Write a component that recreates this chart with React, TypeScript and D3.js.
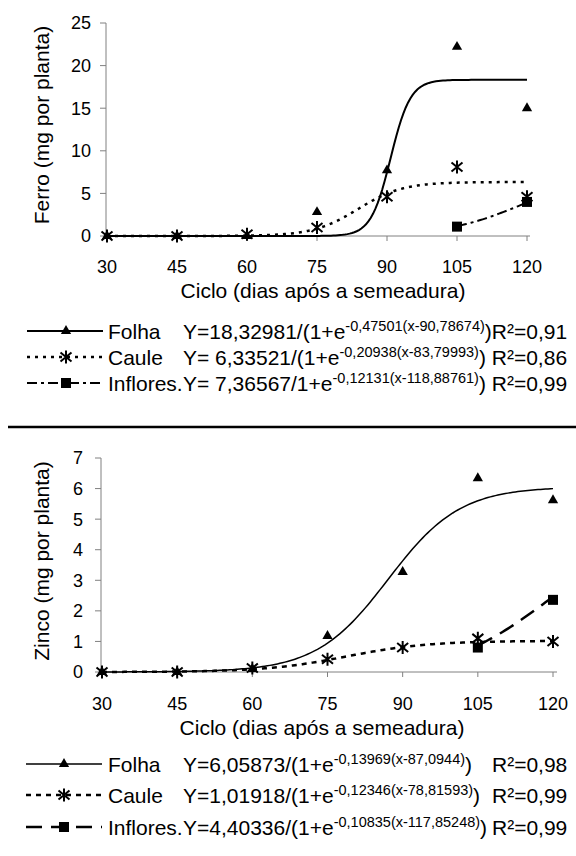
import React from "react";
import * as d3 from "d3";

// Sampling days (dias após a semeadura)
const days = [30, 45, 60, 75, 90, 105, 120];

// Ferro (mg por planta): observed values per organ
const ferroFolha: (number | null)[] = [0, 0, 0, 2.8, 7.7, 22.2, 15.0];
const ferroCaule: (number | null)[] = [0, 0, 0.2, 1.0, 4.6, 8.1, 4.6];
const ferroInflores: (number | null)[] = [null, null, null, null, null, 1.1, 4.0];

// Logistic fits [a, b, c] for Y = a / (1 + e^(-b(x - c)))
const ferroFolhaFit = [18.32981, 0.47501, 90.78674];
const ferroCauleFit = [6.33521, 0.20938, 83.79993];
const ferroInfloresFit = [7.36567, 0.12131, 118.88761];
const ferroR2 = ["0,91", "0,86", "0,99"];
const ferroTicks = [0, 5, 10, 15, 20, 25];

// Zinco (mg por planta)
const zincoFolha: (number | null)[] = [0, 0, 0.1, 1.18, 3.27, 6.34, 5.62];
const zincoCaule: (number | null)[] = [0, 0, 0.13, 0.42, 0.8, 1.1, 1.0];
const zincoInflores: (number | null)[] = [null, null, null, null, null, 0.8, 2.36];

const zincoFolhaFit = [6.05873, 0.13969, 87.0944];
const zincoCauleFit = [1.01918, 0.12346, 78.81593];
const zincoInfloresFit = [4.40336, 0.10835, 117.85248];
const zincoR2 = ["0,98", "0,99", "0,99"];
const zincoTicks = [0, 1, 2, 3, 4, 5, 6, 7];

const seriesNames = ["Folha", "Caule", "Inflores."];
const fitStart = [30, 30, 105];
const markerKinds = ["tri", "star", "sq"];

const FONT = "'Liberation Sans', Arial, Helvetica, sans-serif";
const AXIS = "#808080";
const LEGEND_SIZE = 21;
const SUP_SIZE = 14.5;

const fmt = (v: number) => String(v).replace(".", ",");
const logistic = (f: number[], x: number) => f[0] / (1 + Math.exp(-f[1] * (x - f[2])));

function Marker({ kind, x, y }: { kind: string; x: number; y: number }) {
  if (kind === "tri") {
    const d = d3.symbol(d3.symbolTriangle, 46)() as string;
    return <path d={d} transform={`translate(${x},${y})`} fill="#000" />;
  }
  if (kind === "sq") {
    return <rect x={x - 5} y={y - 5} width={10} height={10} fill="#000" />;
  }
  return (
    <path
      d="M0,-6.5L0,6.5M-5.5,-4.5L5.5,4.5M-5.5,4.5L5.5,-4.5"
      transform={`translate(${x},${y})`}
      stroke="#000"
      strokeWidth={2}
      fill="none"
    />
  );
}

type Layout = {
  axisX: number;
  xL: number;
  xR: number;
  xEnd: number;
  yT: number;
  yB: number;
  yMax: number;
  ticks: number[];
  tickLabelX: number;
  tickLen: number;
  xLabelY: number;
  titleX: number;
  titleY: number;
  yTitle: string;
  yTitleX: number;
  yTitleY: number;
  legendRows: number[];
  lineX0: number;
  lineX1: number;
  markX: number;
  nameX: number;
  eqX: number;
  r2X: number | null;
  dashes: string[];
  widths: number[];
  eqOpen: string[];
  eqSep: string[];
};

function Panel({
  L,
  values,
  fits,
  r2,
}: {
  L: Layout;
  values: (number | null)[][];
  fits: number[][];
  r2: string[];
}) {
  const x = d3.scaleLinear().domain([30, 120]).range([L.xL, L.xR]);
  const y = d3.scaleLinear().domain([0, L.yMax]).range([L.yB, L.yT]);
  const line = d3
    .line<[number, number]>()
    .x((d) => x(d[0]))
    .y((d) => y(d[1]));

  return (
    <g>
      {/* axes */}
      <line x1={L.axisX} x2={L.axisX} y1={L.yT} y2={L.yB} stroke={AXIS} strokeWidth={1} />
      <line x1={L.axisX} x2={L.xEnd} y1={L.yB} y2={L.yB} stroke={AXIS} strokeWidth={1} />
      {L.ticks.map((t) => (
        <g key={"yt" + t}>
          <line x1={L.axisX - L.tickLen} x2={L.axisX} y1={y(t)} y2={y(t)} stroke={AXIS} />
          <text
            x={L.tickLabelX}
            y={y(t)}
            dy="0.36em"
            textAnchor="end"
            fontSize={18}
            fontFamily={FONT}
          >
            {t}
          </text>
        </g>
      ))}
      {days.map((d) => (
        <g key={"xt" + d}>
          {d !== 30 && (
            <line x1={x(d)} x2={x(d)} y1={L.yB} y2={L.yB + 5} stroke={AXIS} />
          )}
          <text x={x(d)} y={L.xLabelY} textAnchor="middle" fontSize={18} fontFamily={FONT}>
            {d}
          </text>
        </g>
      ))}
      <text x={L.titleX} y={L.titleY} textAnchor="middle" fontSize={21} fontFamily={FONT}>
        Ciclo (dias após a semeadura)
      </text>
      <text
        transform={`translate(${L.yTitleX},${L.yTitleY}) rotate(-90)`}
        textAnchor="middle"
        fontSize={21}
        fontFamily={FONT}
      >
        {L.yTitle}
      </text>

      {/* fitted curves */}
      {fits.map((f, i) => {
        const pts = d3
          .range(fitStart[i], 120.001, 0.5)
          .map((d) => [d, logistic(f, d)] as [number, number]);
        return (
          <path
            key={"fit" + i}
            d={line(pts) as string}
            fill="none"
            stroke="#000"
            strokeWidth={L.widths[i]}
            strokeDasharray={L.dashes[i]}
          />
        );
      })}

      {/* observed points */}
      {values.map((vals, i) =>
        vals.map((v, j) =>
          v === null ? null : (
            <Marker key={`m${i}-${j}`} kind={markerKinds[i]} x={x(days[j])} y={y(v)} />
          )
        )
      )}

      {/* legend */}
      {seriesNames.map((name, i) => {
        const ry = L.legendRows[i];
        const f = fits[i];
        return (
          <g key={"lg" + i}>
            <line
              x1={L.lineX0}
              x2={L.lineX1}
              y1={ry}
              y2={ry}
              stroke="#000"
              strokeWidth={L.widths[i]}
              strokeDasharray={L.dashes[i]}
            />
            <Marker kind={markerKinds[i]} x={L.markX} y={ry} />
            <text x={L.nameX} y={ry} dy="0.36em" fontSize={LEGEND_SIZE} fontFamily={FONT}>
              {name}
            </text>
            <text x={L.eqX} y={ry} dy="0.36em" fontSize={LEGEND_SIZE} fontFamily={FONT}>
              {`Y=${L.eqSep[i]}${fmt(f[0])}/${L.eqOpen[i]}1+e`}
              <tspan fontSize={SUP_SIZE} dy={-8}>{`-${fmt(f[1])}(x-${fmt(f[2])})`}</tspan>
              <tspan dy={8}>)</tspan>
              {L.r2X === null ? (i === 0 ? `R²=${r2[i]}` : ` R²=${r2[i]}`) : null}
            </text>
            {L.r2X !== null && (
              <text x={L.r2X} y={ry} dy="0.36em" fontSize={LEGEND_SIZE} fontFamily={FONT}>
                {`R²=${r2[i]}`}
              </text>
            )}
          </g>
        );
      })}
    </g>
  );
}

const ferroLayout: Layout = {
  axisX: 106,
  xL: 107,
  xR: 527,
  xEnd: 530,
  yT: 23,
  yB: 236,
  yMax: 25,
  ticks: ferroTicks,
  tickLabelX: 91,
  tickLen: 6,
  xLabelY: 273,
  titleX: 323,
  titleY: 298,
  yTitle: "Ferro (mg por planta)",
  yTitleX: 49,
  yTitleY: 125,
  legendRows: [331, 357, 383],
  lineX0: 27,
  lineX1: 103,
  markX: 66,
  nameX: 108,
  eqX: 183,
  r2X: null,
  dashes: ["none", "3,5", "10,4,3,4"],
  widths: [2, 2.5, 2],
  eqOpen: ["(", "(", ""],
  eqSep: ["", " ", " "],
};

const zincoLayout: Layout = {
  axisX: 101,
  xL: 102,
  xR: 553,
  xEnd: 557,
  yT: 458,
  yB: 672,
  yMax: 7,
  ticks: zincoTicks,
  tickLabelX: 83,
  tickLen: 6,
  xLabelY: 710,
  titleX: 322,
  titleY: 735,
  yTitle: "Zinco (mg por planta)",
  yTitleX: 49,
  yTitleY: 561,
  legendRows: [764, 795, 827],
  lineX0: 26,
  lineX1: 102,
  markX: 64,
  nameX: 108,
  eqX: 183,
  r2X: 492,
  dashes: ["none", "5,5", "16,9"],
  widths: [1.5, 2.5, 2.5],
  eqOpen: ["(", "(", "("],
  eqSep: ["", "", ""],
};

export default function App() {
  return (
    <svg
      width={576}
      height={856}
      style={{ position: "absolute", left: 0, top: 0, background: "#fff" }}
    >
      <rect width={576} height={856} fill="#fff" />
      <Panel
        L={ferroLayout}
        values={[ferroFolha, ferroCaule, ferroInflores]}
        fits={[ferroFolhaFit, ferroCauleFit, ferroInfloresFit]}
        r2={ferroR2}
      />
      <line x1={8} x2={576} y1={427} y2={427} stroke="#000" strokeWidth={2.5} />
      <Panel
        L={zincoLayout}
        values={[zincoFolha, zincoCaule, zincoInflores]}
        fits={[zincoFolhaFit, zincoCauleFit, zincoInfloresFit]}
        r2={zincoR2}
      />
    </svg>
  );
}
